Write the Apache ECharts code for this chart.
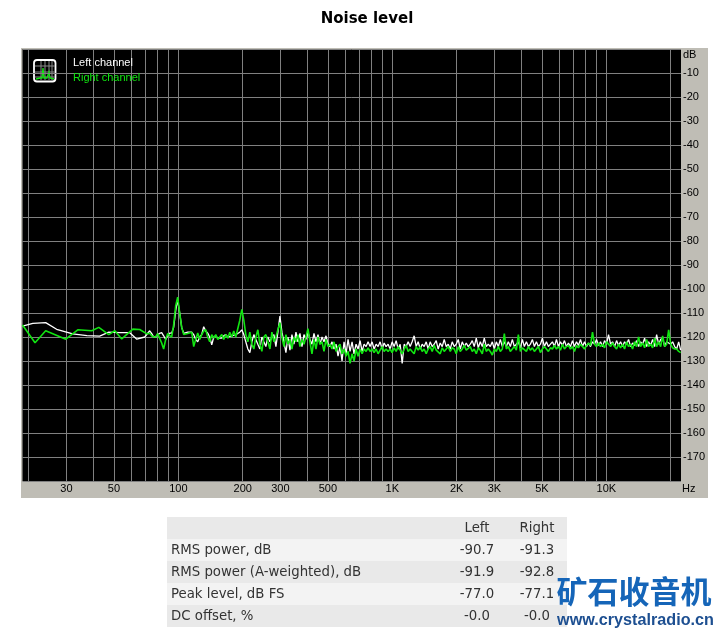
<!DOCTYPE html>
<html>
<head>
<meta charset="utf-8">
<title>Noise level</title>
<script src="https://cdn.jsdelivr.net/npm/echarts@6/dist/echarts.min.js"></script>
<style>
  html, body { margin: 0; padding: 0; background: #fff; }
  #main { width: 722px; height: 635px; }
</style>
</head>
<body>
<div id="main"></div>
<script>
const gridFreqs = [20, 30, 40, 50, 60, 70, 80, 90, 100, 200, 300, 400, 500, 600, 700, 800, 900, 1000,
  2000, 3000, 4000, 5000, 6000, 7000, 8000, 9000, 10000, 20000]
const labelFreqs = [30, 50, 100, 200, 300, 500, 1000, 2000, 3000, 5000, 10000]

// low end of the sweep, each channel has its own visible vertices
const leftLowFreq = [18.7, 20.9, 24, 27, 32.1, 37.4, 42.9, 47.3, 53.3, 59.3, 64, 69.7]
const leftLowDb = [-115.5, -114.3, -114, -116.8, -118.7, -119.4, -119.6, -118, -118.2, -118.2, -120.9, -120]
const rightLowFreq = [18.7, 21.4, 24, 29.8, 33.9, 39.4, 42.5, 47.3, 50.5, 54.4, 61.3, 66, 71.3]
const rightLowDb = [-115, -122.4, -117.4, -120.9, -117, -117.4, -116, -119, -117.4, -120.8, -116.7, -116.9, -118.7]

// rest of the sweep, shared frequencies
const freqs = [
  73.5, 75, 76.7, 78.4, 80, 81.8, 83.6, 85.4, 87.3, 89.2,
  91.1, 93.1, 95.1, 97.2, 99.3, 101.5, 103.7, 106, 108.3, 110.7,
  113, 115.5, 118, 120.6, 123.2, 125.9, 128.6, 131.4, 134.3, 137.2,
  140.2, 143.3, 146.4, 149.6, 152.9, 156.2, 159.6, 163, 166.6, 170.3,
  174, 177.8, 181.6, 185.6, 189.6, 193.8, 198, 202.3, 206.7, 211.3,
  215.9, 220.6, 225.4, 230.3, 235.3, 240.5, 245.7, 251, 256.5, 262.1,
  267.9, 273.7, 279.7, 285.8, 292, 298.4, 304.9, 311.6, 318.3, 325.3,
  332.4, 339.6, 347, 354.6, 362.3, 370.2, 378.3, 386.5, 394.9, 403.5,
  412.3, 421.3, 430.5, 439.9, 449.5, 459.3, 469.3, 479.5, 490, 500.6,
  511.5, 522.7, 534.1, 545.7, 557.6, 569.8, 582.2, 594.9, 607.8, 621.1,
  634.6, 648.5, 662.6, 677, 691.8, 706.9, 722.3, 738, 754.1, 770.5,
  787.3, 804.5, 822, 839.9, 858.2, 877, 896, 915.6, 935.5, 955.9,
  976.7, 998, 1020, 1042, 1065, 1088, 1112, 1136, 1161, 1186,
  1212, 1238, 1265, 1293, 1321, 1350, 1379, 1409, 1440, 1471,
  1503, 1536, 1569, 1604, 1638, 1674, 1711, 1748, 1786, 1825,
  1865, 1905, 1947, 1989, 2033, 2077, 2122, 2168, 2216, 2264,
  2313, 2364, 2415, 2468, 2522, 2577, 2633, 2690, 2749, 2809,
  2870, 2933, 2997, 3062, 3129, 3197, 3267, 3338, 3411, 3485,
  3561, 3639, 3718, 3799, 3882, 3967, 4053, 4141, 4232, 4324,
  4418, 4514, 4613, 4713, 4816, 4921, 5028, 5138, 5250, 5364,
  5481, 5601, 5723, 5848, 5975, 6105, 6238, 6374, 6513, 6655,
  6800, 6948, 7100, 7255, 7413, 7575, 7740, 7909, 8081, 8257,
  8437, 8621, 8809, 9001, 9197, 9398, 9603, 9812, 10026, 10244,
  10467, 10696, 10929, 11167, 11410, 11659, 11913, 12173, 12438, 12709,
  12986, 13269, 13559, 13854, 14156, 14465, 14780, 15102, 15431, 15768,
  16111, 16462, 16821, 17188, 17562, 17945, 18336, 18736, 19144, 19561,
  19987, 20423, 20868, 21323, 21788, 22263
]
const leftDb = [
  -117.4, -118.5, -120, -120, -119, -118.5, -118.2, -119.5, -121, -119.5,
  -118.4, -118.4, -116, -109, -104.6, -110, -116, -118.5, -119, -118,
  -118, -118, -119, -121, -122, -120, -119, -115.7, -117.5, -118.4,
  -120, -123.3, -120, -119.5, -120.5, -120, -120.5, -119.5, -119, -120,
  -120, -119.5, -120, -119, -118.5, -118, -117, -119, -122, -125,
  -126.5, -122, -119, -121, -123, -125, -120, -122, -124, -120,
  -122, -120, -119, -124, -118, -111.3, -118, -122, -126.5, -120,
  -125.5, -119, -123, -118, -122, -118.5, -124, -119, -121, -118,
  -121, -123, -118.5, -122, -119, -123, -120, -122, -119.5, -123,
  -124, -122, -125, -123, -128, -124, -130, -122, -127, -121,
  -126, -122, -127, -123, -125, -121.5, -126, -123, -124, -122,
  -124, -122, -125, -123, -124, -122, -125, -122.5, -124, -123,
  -125, -122, -124, -121.5, -125, -123, -131, -123, -124, -122,
  -124, -122, -119.5, -124, -122, -125, -123, -124, -122, -125,
  -122, -124, -123, -121.5, -125, -122.5, -124, -121, -124, -123,
  -125, -122, -124, -123, -121, -125, -122, -124, -122.5, -124,
  -123, -121.5, -124, -120.5, -124.5, -122, -124, -120.5, -124, -123,
  -124, -122, -125, -122, -124, -121, -124, -122, -124, -122,
  -124, -121, -124, -123, -122, -124.5, -121, -124, -122, -124,
  -123, -121, -124, -122, -124, -123, -120.5, -124, -122, -124,
  -123, -122, -124, -121, -124, -122, -123.5, -121.5, -124, -122.5,
  -124, -121.5, -124, -122, -123.5, -121, -124, -122, -124, -122.5,
  -124, -122, -123, -121, -123.5, -122, -124, -121.5, -123, -119,
  -123, -122, -124, -121.5, -123.5, -122, -124, -122, -123, -121,
  -124, -122.5, -123.5, -121.5, -124, -122, -123, -120.5, -124, -122,
  -123.5, -121, -124, -119, -123, -121, -120.5, -124, -122, -122.5,
  -123, -122, -124, -125, -122, -125.5
]
const rightDb = [
  -118.4, -119.5, -120, -120, -118.6, -120.5, -122.5, -125, -121, -118.5,
  -119.5, -120, -115, -107, -103.4, -110, -116, -119, -119, -118.5,
  -118, -118, -124, -121, -118.3, -121, -119, -117.5, -117, -120,
  -122, -119, -120.5, -119, -121, -120, -119, -121, -119, -120.5,
  -118, -120, -117.5, -120, -119.5, -113, -108.5, -113, -119, -122,
  -118, -123, -125, -120, -117, -123, -126, -120, -119, -122,
  -125, -118, -122, -120, -117, -114, -120, -124, -119, -123,
  -121, -125, -120, -122, -119, -124, -121, -123, -120, -116.5,
  -122, -127, -121, -125, -120, -123, -122, -126, -121, -124,
  -123, -125, -122, -126, -124, -123, -127, -125, -128, -126,
  -131, -127, -130, -125, -128, -125, -127, -125, -126, -124.5,
  -126, -125, -126.5, -125, -127, -125.5, -124, -126, -125, -126,
  -125, -126.5, -124.5, -126, -124, -125.5, -127, -125, -123.5, -126,
  -125, -126, -127, -124, -125.5, -124, -126, -125, -127, -125,
  -124, -126, -123.5, -125.5, -125, -127, -124.5, -126, -125, -124,
  -126, -124.5, -125, -127, -124, -126, -125, -123.5, -125.5, -126,
  -124, -126, -125, -127, -124.5, -125.5, -127, -123, -126, -125,
  -126, -127.5, -125, -126, -124, -126, -125, -118.6, -125, -124,
  -126, -125, -124, -125.5, -119, -126, -124.5, -125, -126, -124,
  -125.5, -124.5, -126, -125, -124, -126.5, -125, -124, -125, -126,
  -124.5, -125, -123.5, -125, -124, -125.5, -123, -125, -124, -123.5,
  -125, -124, -126, -123.5, -124.5, -123, -124, -125, -123.5, -122.5,
  -123.5, -118, -123, -124, -122.5, -124, -123, -124.5, -122, -123,
  -124, -122.5, -124, -125, -123, -124.5, -123, -125, -122, -124,
  -123, -125, -122, -124, -120, -124, -122.5, -124.5, -121, -124,
  -123, -124.5, -120.5, -124, -122, -124, -119.5, -124, -123, -117,
  -123, -124.5, -125, -125, -126, -126.5
]

const tableHead = ['', 'Left', 'Right']
const tableRows = [
  ['RMS power, dB', '-90.7', '-91.3'],
  ['RMS power (A-weighted), dB', '-91.9', '-92.8'],
  ['Peak level, dB FS', '-77.0', '-77.1'],
  ['DC offset, %', '-0.0', '-0.0']
]

const panelColor = '#bfbdb5'
const gridColor = '#808080'
const axisFont = '"Liberation Sans", sans-serif'
const tableFont = '"DejaVu Sans", sans-serif'

function toPairs (lowF, lowD, d) {
  const out = lowF.map((f, i) => [f, lowD[i]])
  freqs.forEach((f, i) => out.push([f, d[i]]))
  return out
}

function tableGraphics () {
  const items = []
  const x0 = 167
  const w = 400
  const rowH = 22
  const top = 517
  const cols = [171, 477, 537]
  const all = [tableHead].concat(tableRows)
  all.forEach((row, r) => {
    const y = top + r * rowH
    items.push({ type: 'rect', silent: true, shape: { x: x0, y: y, width: w, height: rowH }, style: { fill: r % 2 === 0 ? '#e9e9e9' : '#f3f3f3' } })
    row.forEach((t, c) => {
      if (!t) return
      items.push({
        type: 'text',
        silent: true,
        x: cols[c],
        y: y + rowH / 2 + 1,
        style: { text: t, fill: '#333', font: '13.3px ' + tableFont, align: c === 0 ? 'left' : 'center', verticalAlign: 'middle' }
      })
    })
  })
  return items
}

function legendIcon () {
  const lines = []
  const v = [41, 45, 49, 52]
  const h = [66, 72, 77]
  v.forEach(x => lines.push({ type: 'line', silent: true, shape: { x1: x, y1: 61, x2: x, y2: 80 }, style: { stroke: '#8a8a8a', lineWidth: 1 } }))
  h.forEach(y => lines.push({ type: 'line', silent: true, shape: { x1: 35, y1: y, x2: 55, y2: y }, style: { stroke: '#8a8a8a', lineWidth: 1 } }))
  return [
    { type: 'rect', silent: true, shape: { x: 34, y: 60, width: 21.5, height: 21.5, r: 3 }, style: { fill: '#000', stroke: '#fff', lineWidth: 1.8 } }
  ].concat(lines, [
    { type: 'polyline', silent: true, shape: { points: [[36, 79], [40, 78], [42, 78], [43, 68], [44, 78], [47, 78], [49, 72], [50, 78], [54, 79]] }, style: { stroke: '#11e511', fill: null, lineWidth: 1.3 } }
  ])
}

const myChart = echarts.init(document.getElementById('main'), null, { renderer: 'canvas' })
const option = {
  animation: false,
  backgroundColor: '#fff',
  title: {
    text: 'Noise level',
    left: 362,
    top: 7,
    textAlign: 'center',
    textStyle: { fontFamily: '"DejaVu Sans", sans-serif', fontSize: 15, fontWeight: 'bold', color: '#000' }
  },
  legend: {
    left: 63,
    top: 52,
    orient: 'vertical',
    itemGap: 4,
    itemWidth: 0,
    itemHeight: 0,
    icon: 'none',
    selectedMode: false,
    textStyle: { fontFamily: axisFont, fontSize: 11 },
    data: [
      { name: 'Left channel', textStyle: { color: '#fff' } },
      { name: 'Right channel', textStyle: { color: '#11e511' } }
    ]
  },
  grid: { left: 22.5, top: 49, width: 658.5, height: 432, show: true, backgroundColor: '#000', borderWidth: 0 },
  xAxis: {
    type: 'log',
    logBase: 10,
    min: 18.7,
    max: 22340,
    axisLine: { show: false },
    axisTick: { show: false, customValues: gridFreqs },
    splitLine: { show: true, lineStyle: { color: gridColor, width: 1 } },
    minorSplitLine: { show: false },
    axisLabel: {
      customValues: labelFreqs,
      color: '#000',
      fontFamily: axisFont,
      fontSize: 11,
      margin: 2,
      formatter: v => v >= 1000 ? (v / 1000) + 'K' : String(v)
    }
  },
  yAxis: {
    type: 'value',
    min: -180,
    max: 0,
    interval: 10,
    position: 'right',
    axisLine: { show: false },
    axisTick: { show: false },
    splitLine: { show: true, lineStyle: { color: gridColor, width: 1 } },
    axisLabel: {
      color: '#000',
      fontFamily: axisFont,
      fontSize: 11,
      margin: 2,
      formatter: v => (v === 0 || v === -180) ? '' : String(v)
    }
  },
  series: [
    {
      name: 'Left channel',
      type: 'line',
      showSymbol: false,
      lineStyle: { color: '#fff', width: 1.3 },
      itemStyle: { color: '#fff' },
      data: toPairs(leftLowFreq, leftLowDb, leftDb)
    },
    {
      name: 'Right channel',
      type: 'line',
      showSymbol: false,
      lineStyle: { color: '#11e511', width: 1.6 },
      itemStyle: { color: '#11e511' },
      data: toPairs(rightLowFreq, rightLowDb, rightDb)
    }
  ],
  graphic: [
    { type: 'rect', silent: true, z: -10, shape: { x: 21, y: 48, width: 687, height: 450 }, style: { fill: panelColor } },
    { type: 'group', silent: true, z: 10, children: legendIcon() },
    { type: 'text', silent: true, z: 10, x: 683, y: 55, style: { text: 'dB', fill: '#000', font: '11px ' + axisFont, verticalAlign: 'middle' } },
    { type: 'text', silent: true, z: 10, x: 682, y: 489, style: { text: 'Hz', fill: '#000', font: '11px ' + axisFont, verticalAlign: 'middle' } },
    { type: 'group', silent: true, z: 5, children: tableGraphics() },
    { type: 'text', silent: true, z: 11, x: 634, y: 591, style: { text: '矿石收音机', fill: '#1565b8', font: 'bold 31px "Noto Sans CJK SC"', align: 'center', verticalAlign: 'middle' } },
    { type: 'text', silent: true, z: 11, x: 635.5, y: 621, style: { text: 'www.crystalradio.cn', fill: '#1d4f91', font: 'bold 16.2px "Liberation Sans"', align: 'center', verticalAlign: 'middle' } }
  ]
}
option && myChart.setOption(option)
</script>
</body>
</html>
